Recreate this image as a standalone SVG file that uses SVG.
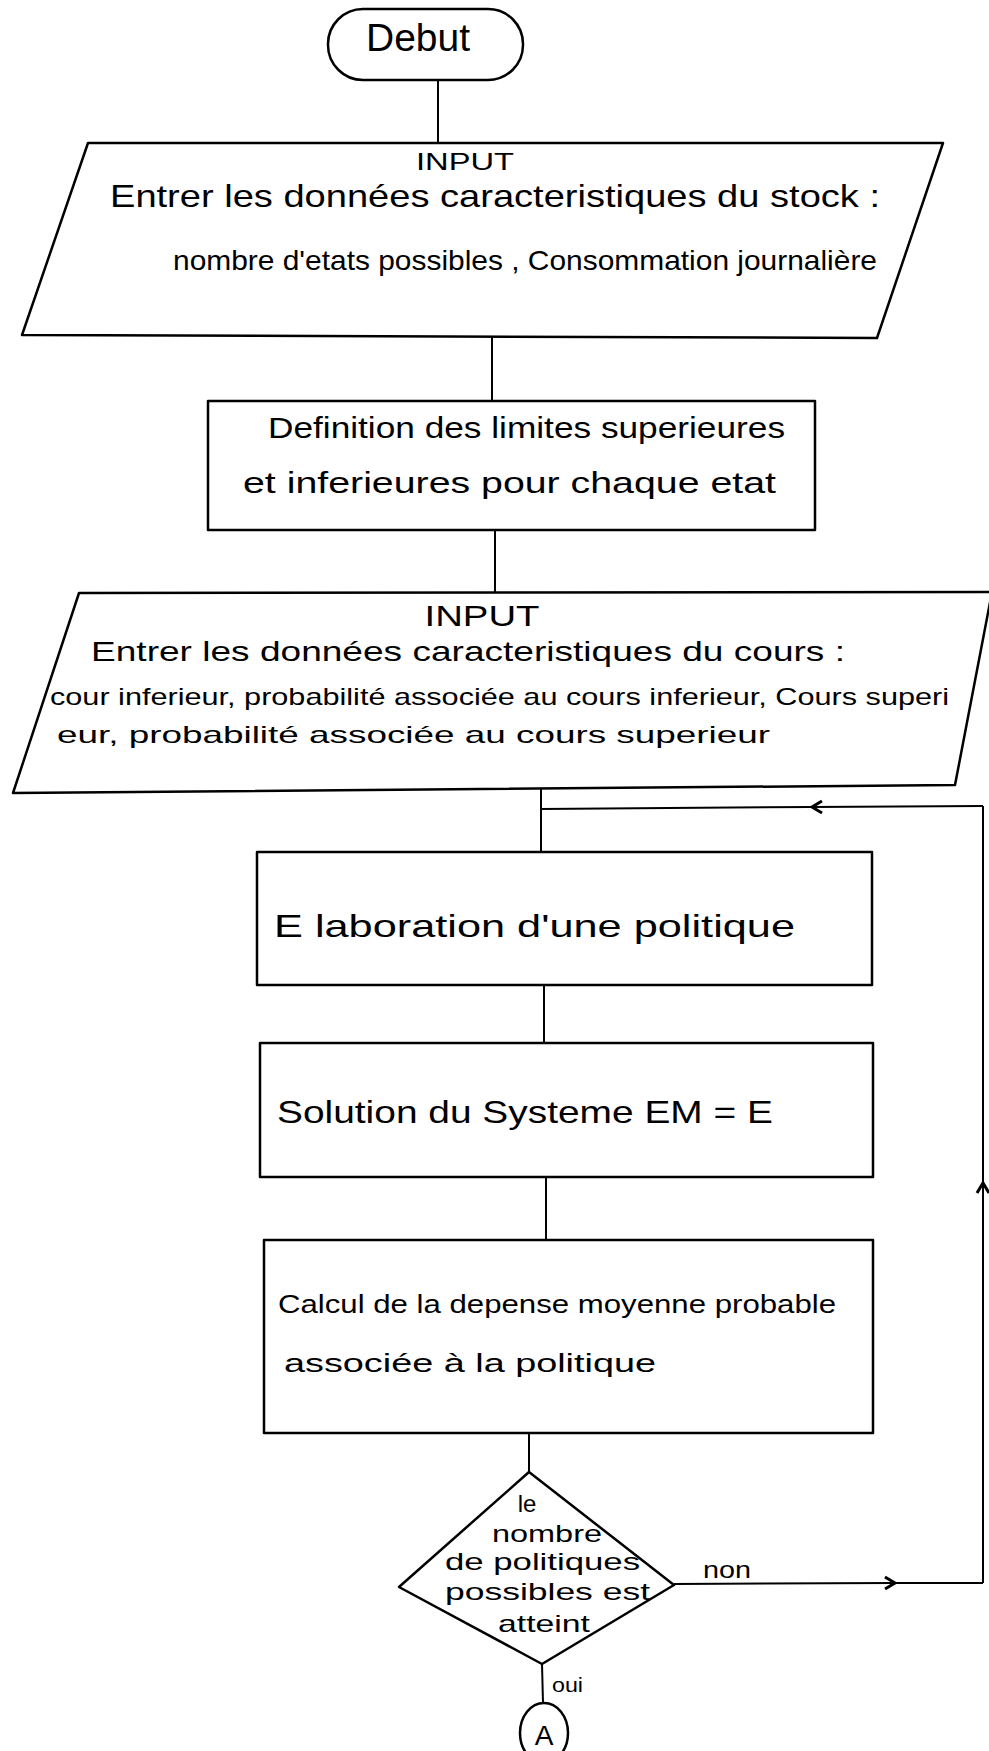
<svg xmlns="http://www.w3.org/2000/svg" width="989" height="1751" viewBox="0 0 989 1751">
<defs>
<style>
.s{fill:none;stroke:#000;stroke-width:2.5;stroke-linejoin:round}
.c{fill:none;stroke:#000;stroke-width:2}
.t{font-family:"Liberation Sans",Arial,sans-serif;fill:#000}
</style>
<marker id="chev" viewBox="0 0 16 16" refX="13" refY="8" markerWidth="16" markerHeight="16" markerUnits="userSpaceOnUse" orient="auto">
<path d="M3,2 L13,8 L3,14" fill="none" stroke="#000" stroke-width="3"/>
</marker>
</defs>
<rect width="989" height="1751" fill="#fff"/>
<g id="connectors">
<line class="c" x1="438" y1="80" x2="438" y2="143"/>
<line class="c" x1="492" y1="337" x2="492" y2="401"/>
<line class="c" x1="495" y1="530" x2="495" y2="593"/>
<line class="c" x1="541" y1="789" x2="541" y2="852"/>
<line class="c" x1="544" y1="985" x2="544" y2="1043"/>
<line class="c" x1="546" y1="1177" x2="546" y2="1240"/>
<line class="c" x1="529" y1="1433" x2="529" y2="1472"/>
<line class="c" x1="674" y1="1584" x2="895" y2="1583" marker-end="url(#chev)"/>
<line class="c" x1="895" y1="1583" x2="983" y2="1583"/>
<line class="c" x1="983" y1="1583" x2="983" y2="1183" marker-end="url(#chev)"/>
<line class="c" x1="983" y1="1183" x2="983" y2="806"/>
<line class="c" x1="983" y1="806" x2="812" y2="807" marker-end="url(#chev)"/>
<line class="c" x1="812" y1="807" x2="541" y2="809"/>
<line class="c" x1="542" y1="1664" x2="543" y2="1703"/>
<text class="t" x="552" y="1692" font-size="20" textLength="31" lengthAdjust="spacingAndGlyphs">oui</text>
<text class="t" x="703" y="1578" font-size="24" textLength="48" lengthAdjust="spacingAndGlyphs">non</text>
</g>
<g id="debut">
<rect class="s" x="328" y="9" width="195" height="71" rx="35"/>
<text class="t" x="418" y="51" font-size="38" text-anchor="middle" textLength="104" lengthAdjust="spacingAndGlyphs">Debut</text>
</g>
<g id="input1">
<polygon class="s" points="88,143 943,143 877,338 22,335"/>
<text class="t" x="465" y="170" font-size="24" text-anchor="middle" textLength="98" lengthAdjust="spacingAndGlyphs">INPUT</text>
<text class="t" x="110" y="207" font-size="32" textLength="770" lengthAdjust="spacingAndGlyphs">Entrer les données caracteristiques du stock :</text>
<text class="t" x="173" y="270" font-size="28" textLength="704" lengthAdjust="spacingAndGlyphs">nombre d'etats possibles , Consommation journalière</text>
</g>
<g id="limites">
<rect class="s" x="208" y="401" width="607" height="129"/>
<text class="t" x="268" y="438" font-size="30" textLength="517" lengthAdjust="spacingAndGlyphs">Definition des limites superieures</text>
<text class="t" x="243" y="493" font-size="30" textLength="533" lengthAdjust="spacingAndGlyphs">et inferieures pour chaque etat</text>
</g>
<g id="input2">
<polygon class="s" points="79,593 992,592 955,785 13,793"/>
<text class="t" x="482" y="626" font-size="30" text-anchor="middle" textLength="115" lengthAdjust="spacingAndGlyphs">INPUT</text>
<text class="t" x="91" y="661" font-size="28" textLength="754" lengthAdjust="spacingAndGlyphs">Entrer les données caracteristiques du cours :</text>
<text class="t" x="50" y="705" font-size="24" textLength="899" lengthAdjust="spacingAndGlyphs">cour inferieur, probabilité associée au cours inferieur, Cours superi</text>
<text class="t" x="57" y="743" font-size="24" textLength="713" lengthAdjust="spacingAndGlyphs">eur, probabilité associée au cours superieur</text>
</g>
<g id="elaboration">
<rect class="s" x="257" y="852" width="615" height="133"/>
<text class="t" x="274" y="937" font-size="32" textLength="521" lengthAdjust="spacingAndGlyphs">E laboration  d'une  politique</text>
</g>
<g id="solution">
<rect class="s" x="260" y="1043" width="613" height="134"/>
<text class="t" x="277" y="1123" font-size="32" textLength="496" lengthAdjust="spacingAndGlyphs">Solution du Systeme EM = E</text>
</g>
<g id="calcul">
<rect class="s" x="264" y="1240" width="609" height="193"/>
<text class="t" x="278" y="1313" font-size="26" textLength="558" lengthAdjust="spacingAndGlyphs">Calcul de la depense moyenne probable</text>
<text class="t" x="284" y="1372" font-size="26" textLength="372" lengthAdjust="spacingAndGlyphs">associée  à la politique</text>
</g>
<g id="decision">
<polygon class="s" points="529,1472 674,1585 542,1664 399,1587"/>
<text class="t" x="527" y="1512" font-size="24" text-anchor="middle">le</text>
<text class="t" x="547" y="1542" font-size="24" text-anchor="middle" textLength="110" lengthAdjust="spacingAndGlyphs">nombre</text>
<text class="t" x="445" y="1570" font-size="24" textLength="195" lengthAdjust="spacingAndGlyphs">de politiques</text>
<text class="t" x="445" y="1600" font-size="24" textLength="205" lengthAdjust="spacingAndGlyphs">possibles est</text>
<text class="t" x="544" y="1632" font-size="24" text-anchor="middle" textLength="92" lengthAdjust="spacingAndGlyphs">atteint</text>
</g>
<g id="connA">
<ellipse class="s" cx="544" cy="1733" rx="24" ry="30"/>
<text class="t" x="544" y="1745" font-size="28" text-anchor="middle">A</text>
</g>
</svg>
